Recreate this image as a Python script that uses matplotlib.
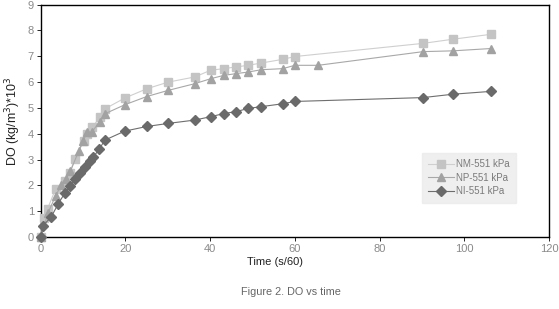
import matplotlib
matplotlib.use("Agg")
import matplotlib.pyplot as plt

plt.rcParams['font.family'] = ['Liberation Sans', 'DejaVu Sans']

# NM-551 kPa (squares)
nm_t = [0, 0.7, 1.6, 3.5, 5.7, 6.9, 8.0, 10.2, 10.9, 12.2, 13.9, 15.1,
        19.8, 25.0, 30.1, 36.4, 40.1, 43.2, 46.2, 49.0, 52.1, 57.1, 60.0,
        90.3, 97.3, 106.3]
nm_do = [0, 0.75, 1.1, 1.86, 2.16, 2.49, 3.03, 3.72, 3.98, 4.25, 4.64, 4.96,
         5.38, 5.74, 6.0, 6.2, 6.46, 6.52, 6.59, 6.65, 6.74, 6.88, 6.99,
         7.5, 7.66, 7.85]

# NP-551 kPa (triangles)
np_t = [0, 1.7, 3.5, 4.8, 5.9, 7.0, 9.0, 10.0, 10.9, 12.0, 13.9, 15.1,
        19.8, 25.0, 30.1, 36.4, 40.1, 43.2, 46.2, 49.0, 52.1, 57.1, 60.0,
        65.5, 90.3, 97.3, 106.3]
np_do = [0, 0.93, 1.6, 2.0, 2.25, 2.55, 3.35, 3.72, 4.05, 4.05, 4.47, 4.77,
         5.12, 5.44, 5.68, 5.94, 6.13, 6.26, 6.33, 6.39, 6.48, 6.52, 6.65,
         6.65, 7.18, 7.21, 7.3]

# NI-551 kPa (diamonds)
ni_t = [0, 0.5, 2.5, 4.1, 5.7, 6.9, 8.0, 9.2, 10.4, 11.6, 12.3, 13.8, 15.1,
        19.8, 25.0, 30.1, 36.4, 40.1, 43.2, 46.2, 49.0, 52.1, 57.1, 60.0,
        90.3, 97.3, 106.3]
ni_do = [0, 0.43, 0.79, 1.28, 1.71, 1.96, 2.23, 2.49, 2.72, 2.94, 3.08, 3.4,
         3.75, 4.1, 4.28, 4.4, 4.53, 4.66, 4.78, 4.86, 4.98, 5.05, 5.16, 5.25,
         5.4, 5.53, 5.64]

fig = plt.figure(figsize=(5.59, 3.09), dpi=100)
ax = fig.add_axes([0.073, 0.233, 0.909, 0.752])

ax.plot(nm_t, nm_do, color='#cfcfcf', marker='s', markersize=5.5,
        markerfacecolor='#c4c4c4', markeredgecolor='#c4c4c4', lw=0.8,
        label='NM-551 kPa', clip_on=False, zorder=3)
ax.plot(np_t, np_do, color='#a8a8a8', marker='^', markersize=6,
        markerfacecolor='#a2a2a2', markeredgecolor='#a2a2a2', lw=0.8,
        label='NP-551 kPa', clip_on=False, zorder=3)
ax.plot(ni_t, ni_do, color='#6e6e6e', marker='D', markersize=5.5,
        markerfacecolor='#6a6a6a', markeredgecolor='#6a6a6a', lw=0.8,
        label='NI-551 kPa', clip_on=False, zorder=3)

ax.set_xlim(0, 120)
ax.set_ylim(0, 9)
ax.set_xticks(range(0, 121, 20))
ax.set_yticks(range(0, 10))
ax.tick_params(labelsize=8, labelcolor='#8a8a8a', length=3, width=0.6,
               direction='out', pad=2)
for s in ax.spines.values():
    s.set_linewidth(1.0)

ax.set_xlabel('Time (s/60)', fontsize=8, color='#222222', labelpad=2)
ax.xaxis.set_label_coords(0.46, -0.085)
ax.set_ylabel('DO (kg/m$^3$)*10$^3$', fontsize=9, color='#222222', labelpad=3)

leg = ax.legend(loc='lower right', bbox_to_anchor=(0.945, 0.125), fontsize=7,
                frameon=True, fancybox=False, handlelength=2.6,
                labelspacing=0.35, borderpad=0.7, handletextpad=0.2)
leg.get_frame().set_facecolor('#ebebeb')
leg.get_frame().set_edgecolor('#ebebeb')
for t in leg.get_texts():
    t.set_color('#7a7a7a')

fig.text(0.52, 0.055, 'Figure 2. DO vs time', ha='center', va='center',
         fontsize=7.8, color='#666666')

fig.savefig('out.png', dpi=100)
